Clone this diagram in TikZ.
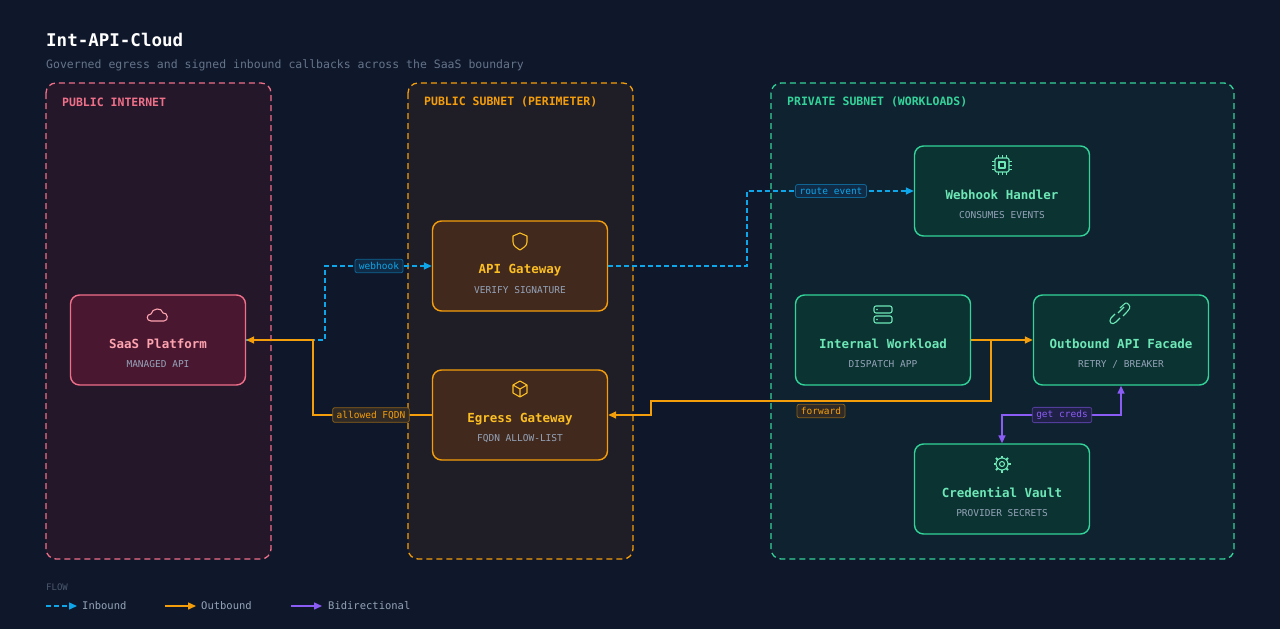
\documentclass[tikz,border=0pt]{standalone}
\usepackage{fontspec}
\setmainfont{DejaVu Sans Mono}
\usetikzlibrary{arrows.meta}
\definecolor{bg}{HTML}{0F172A}
\definecolor{pk}{HTML}{F0708A}\definecolor{pkf}{HTML}{231729}\definecolor{pkn}{HTML}{4A1731}\definecolor{pkt}{HTML}{FDA4AF}
\definecolor{or}{HTML}{F59E0B}\definecolor{orf}{HTML}{1F1D26}\definecolor{orn}{HTML}{42291E}\definecolor{ort}{HTML}{FBBF24}
\definecolor{gr}{HTML}{34D399}\definecolor{grf}{HTML}{0E2230}\definecolor{grn}{HTML}{0A3331}\definecolor{grt}{HTML}{6EE7B7}
\definecolor{bl}{HTML}{0EA5E9}\definecolor{pu}{HTML}{8B5CF6}\definecolor{sub}{HTML}{94A3B8}\definecolor{mut}{HTML}{64748B}
\begin{document}
\begin{tikzpicture}[x=1pt,y=-1pt,
 zone/.style={draw=#1,dashed,dash pattern=on 6pt off 4pt,line width=1.3pt,rounded corners=10pt},
 zlab/.style={anchor=west,font=\bfseries\fontsize{11.5}{13}\selectfont},
 box/.style={draw=#1,line width=1.4pt,rounded corners=9pt,minimum width=175pt,minimum height=90pt},
 ttl/.style={font=\bfseries\fontsize{12.5}{15}\selectfont},
 st/.style={font=\fontsize{9.5}{11}\selectfont,text=sub},
 ico/.style={line width=1.1pt,line join=round},
 lab/.style={draw=#1!55!bg,rounded corners=2pt,line width=0.8pt,font=\fontsize{9.5}{11}\selectfont,inner xsep=4pt,inner ysep=3pt,fill=#1!14!bg},
 inb/.style={draw=bl,line width=1.5pt,dash pattern=on 5pt off 3pt,-{Triangle[length=8pt,width=7pt]}},
 outb/.style={draw=or,line width=1.5pt,-{Triangle[length=8pt,width=7pt]}},
 bid/.style={draw=pu,line width=1.5pt,{Triangle[length=8pt,width=7pt]}-{Triangle[length=8pt,width=7pt]}}]
\fill[bg] (0,0) rectangle (1280,629);
\useasboundingbox (0,0) rectangle (1280,629);
\node[anchor=west,font=\bfseries\fontsize{17.5}{19}\selectfont,text=white,inner sep=0pt] (title) at (46,40) {Int-API-Cloud};
\node[anchor=west,font=\fontsize{11.5}{13}\selectfont,text=mut,inner sep=0pt] (subt) at (46,65) {Governed egress and signed inbound callbacks across the SaaS boundary};
% zones
\draw[zone=pk,fill=pkf] (46,83) rectangle (271,559);
\draw[zone=or,fill=orf] (408,83) rectangle (633,559);
\draw[zone=gr,fill=grf] (771,83) rectangle (1234,559);
\node[zlab,text=pk,inner sep=0pt] (z1) at (62,102) {PUBLIC INTERNET};
\node[zlab,text=or,inner sep=0pt] (z2) at (424,102) {PUBLIC SUBNET (PERIMETER)};
\node[zlab,text=gr,inner sep=0pt] (z3) at (787,102) {PRIVATE SUBNET (WORKLOADS)};
% nodes
\node[box=pk,fill=pkn] (saas) at (158,340) {};
\node[box=or,fill=orn] (api) at (520,266) {};
\node[box=or,fill=orn] (egr) at (520,415) {};
\node[box=gr,fill=grn] (wh) at (1002,191) {};
\node[box=gr,fill=grn] (iw) at (883,340) {};
\node[box=gr,fill=grn] (ob) at (1121,340) {};
\node[box=gr,fill=grn] (cv) at (1002,489) {};
\foreach \n/\t/\s/\c in {saas/SaaS Platform/MANAGED API/pkt, api/API Gateway/VERIFY SIGNATURE/ort, egr/Egress Gateway/FQDN ALLOW-LIST/ort, wh/Webhook Handler/CONSUMES EVENTS/grt, iw/Internal Workload/DISPATCH APP/grt, ob/Outbound API Facade/{RETRY / BREAKER}/grt, cv/Credential Vault/PROVIDER SECRETS/grt}{
 \node[ttl,text=\c] at ([yshift=-4pt]\n.center) {\t};
 \node[st] at ([yshift=-24pt]\n.center) {\s};
}
% icons
\draw[ico,pkt] (151,321) .. controls (146,321) and (146,314) .. (151,314) .. controls (152,308) and (162,307) .. (163,313) .. controls (168,312) and (169,321) .. (164,321) -- cycle;
\draw[ico,ort] (520,233) -- (527,236) -- (527,242) .. controls (527,246) and (523,248) .. (520,250) .. controls (517,248) and (513,246) .. (513,242) -- (513,236) -- cycle;
\draw[ico,ort] (520,381) -- (527,385) -- (527,393) -- (520,397) -- (513,393) -- (513,385) -- cycle (513,385) -- (520,389) -- (527,385) (520,389) -- (520,397);
\draw[ico,grt,rounded corners=1.5pt] (995,158) rectangle (1009,172); \draw[ico,grt] (999,162) rectangle (1005,168);
\foreach \d in {-4,0,4}{\draw[grt,line width=1pt] (1002+\d,155)--(1002+\d,158) (1002+\d,172)--(1002+\d,175) (992,165+\d)--(995,165+\d) (1009,165+\d)--(1012,165+\d);}
\draw[ico,grt,rounded corners=2pt] (874,306) rectangle (892,313) (874,316) rectangle (892,323);
\fill[grt] (877,309.5) circle (0.8pt) (877,319.5) circle (0.8pt);
\draw[ico,grt,rounded corners=3pt] (1123,316) -- (1128,311) .. controls (1131,306) and (1127,302) .. (1123,305) -- (1120,308);
\draw[ico,grt] (1118,313) -- (1124,307);
\draw[ico,grt] (1120,318) -- (1116,322) .. controls (1112,326) and (1108,322) .. (1111,318) -- (1115,314);
\draw[ico,grt] (1002,464) circle (2.5pt) (1002,464) circle (6pt);
\foreach \a in {0,45,...,315}{\draw[grt,line width=2pt] (1002,464) ++(\a:6pt) -- ++(\a:2.5pt);}
% connectors
\coordinate (w1) at (325,340); \coordinate (w2) at (325,266);
\draw[inb] (saas.east) -- (w1) -- (w2) -- (api.west);
\node[lab=bl,text=bl] (lw) at (379,266) {webhook};
\coordinate (r1) at (747,266); \coordinate (r2) at (747,191);
\draw[inb] (api.east) -- (r1) -- (r2) -- (wh.west);
\node[lab=bl,text=bl] (lr) at (831,191) {route event};
\coordinate (a1) at (313,415); \coordinate (a2) at (313,340);
\draw[outb] (egr.west) -- (a1) -- (a2) -- (saas.east);
\node[lab=or,text=or] (la) at (371,415) {allowed FQDN};
\draw[outb] (iw.east) -- (ob.west);
\coordinate (f0) at (991,340); \coordinate (f1) at (991,401); \coordinate (f2) at (651,401); \coordinate (f3) at (651,415);
\draw[outb] (f0) -- (f1) -- (f2) -- (f3) -- (egr.east);
\node[lab=or,text=or] (lf) at (821,411) {forward};
\coordinate (g1) at (1002,415); \coordinate (g2) at (1121,415);
\draw[bid] (cv.north) -- (g1) -- (g2) -- (ob.south);
\node[lab=pu,text=pu] (lg) at (1062,415) {get creds};
% legend
\node[anchor=west,font=\fontsize{9}{10}\selectfont,text=mut!70!bg,inner sep=0pt] (flow) at (46,587) {FLOW};
\coordinate (l1) at (46,606); \coordinate (l1b) at (77,606);
\draw[inb] (l1) -- (l1b); \node[anchor=west,font=\fontsize{10.5}{12}\selectfont,text=sub,inner sep=0pt] (li) at (82,606) {Inbound};
\coordinate (l2) at (165,606); \coordinate (l2b) at (196,606);
\draw[outb] (l2) -- (l2b); \node[anchor=west,font=\fontsize{10.5}{12}\selectfont,text=sub,inner sep=0pt] (lo) at (201,606) {Outbound};
\coordinate (l3) at (291,606); \coordinate (l3b) at (322,606);
\draw[draw=pu,line width=1.5pt,-{Triangle[length=8pt,width=7pt]}] (l3) -- (l3b); \node[anchor=west,font=\fontsize{10.5}{12}\selectfont,text=sub,inner sep=0pt] (lb) at (328,606) {Bidirectional};
\end{tikzpicture}
\end{document}
